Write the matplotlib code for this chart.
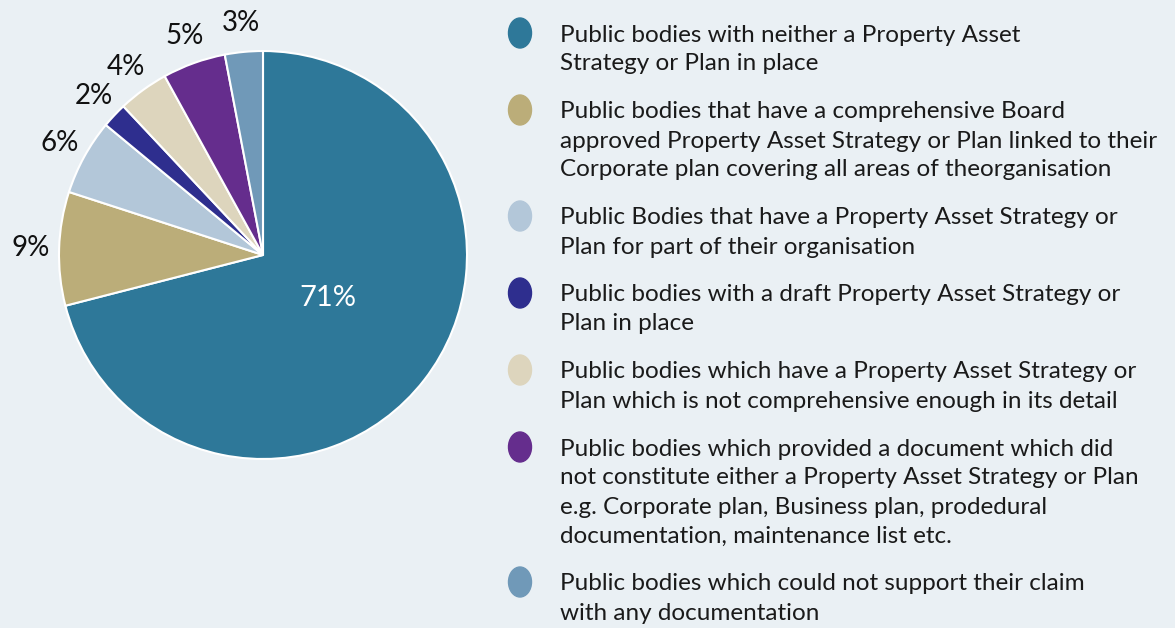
import matplotlib.pyplot as plt
from matplotlib.patches import Ellipse

# share of public bodies in each category (%), clockwise from 12 o'clock
values = [71, 9, 6, 2, 4, 5, 3]
colors = ['#2e7899', '#bbad79', '#b3c7d9', '#2e2e8e', '#ddd5bd', '#652d8d', '#7099b8']
legend_labels = [
    "Public bodies with neither a Property Asset\nStrategy or Plan in place",
    "Public bodies that have a comprehensive Board\napproved Property Asset Strategy or Plan linked to their\nCorporate plan covering all areas of theorganisation",
    "Public Bodies that have a Property Asset Strategy or\nPlan for part of their organisation",
    "Public bodies with a draft Property Asset Strategy or\nPlan in place",
    "Public bodies which have a Property Asset Strategy or\nPlan which is not comprehensive enough in its detail",
    "Public bodies which provided a document which did\nnot constitute either a Property Asset Strategy or Plan\ne.g. Corporate plan, Business plan, prodedural\ndocumentation, maintenance list etc.",
    "Public bodies which could not support their claim\nwith any documentation",
]

bg = '#eaf0f4'
W, H = 1175, 628
plt.rcParams['font.family'] = ['Lato', 'DejaVu Sans']

fig = plt.figure(figsize=(W / 100, H / 100), dpi=100, facecolor=bg)

# pie axes: centre (263, 255) px, radius 204 px
cx, cy, r = 263, 255, 204
ax = fig.add_axes([(cx - r) / W, 1 - (cy + r) / H, 2 * r / W, 2 * r / H])
ax.set_facecolor(bg)

wedges, texts = ax.pie(values, colors=colors, startangle=90, counterclock=False,
                       labels=[f"{v}%" for v in values], labeldistance=1.14,
                       wedgeprops=dict(edgecolor='white', linewidth=1.5),
                       textprops=dict(fontsize=20, color='#111111'))
for t in texts:
    t.set_clip_on(False)
    t.set_horizontalalignment('center')
    t.set_verticalalignment('center')
# biggest slice gets its label inside, in white
texts[0].set_position((0.32, -0.21))
texts[0].set_color('white')
texts[0].set_fontsize(21)
ax.set_xlim(-1, 1)
ax.set_ylim(-1, 1)
ax.set_aspect('equal')
ax.axis('off')

def fx(x):
    return x / W

def fy(y):
    return 1 - y / H

# legend drawn by hand: ellipse marker and wrapped text
line_h = 29
y = 33
for label, col in zip(legend_labels, colors):
    fig.patches.append(Ellipse((fx(520), fy(y)), 23 / W, 30 / H, color=col,
                               transform=fig.transFigure))
    lines = label.split("\n")
    for i, ln in enumerate(lines):
        fig.text(fx(560), fy(y + i * line_h), ln, fontsize=17.5,
                 color='#1a1a1a', va='center_baseline', ha='left')
    y += len(lines) * line_h + 19

fig.savefig('out.png', dpi=100, facecolor=bg)
